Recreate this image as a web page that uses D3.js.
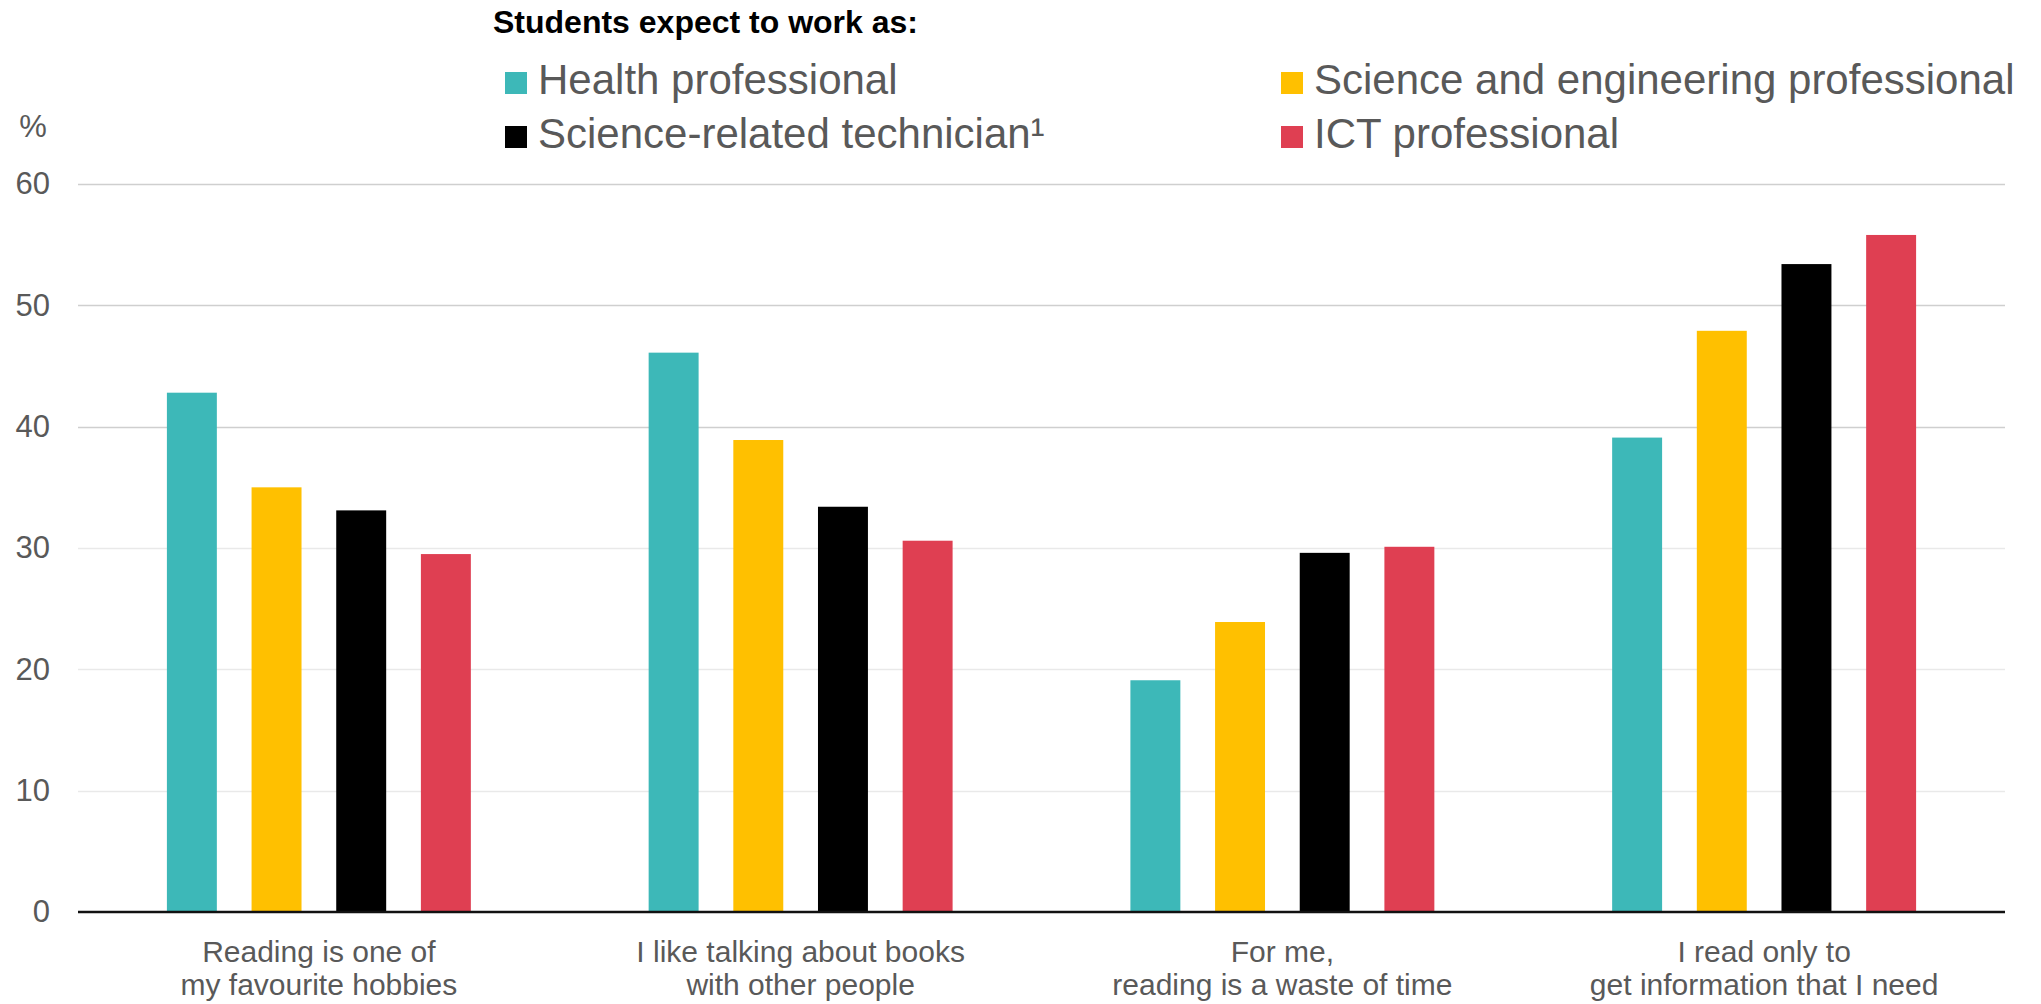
<!DOCTYPE html>
<html>
<head>
<meta charset="utf-8">
<script src="https://cdn.jsdelivr.net/npm/d3@7"></script>
<style>
  html, body { margin: 0; padding: 0; background: #fff; }
  svg { display: block; font-family: Arial, "Liberation Sans", sans-serif; }
</style>
</head>
<body>
<svg id="chart" width="2041" height="1004"></svg>
<script>
// ---- data ----
const categories = [
  ["Reading is one of", "my favourite hobbies"],
  ["I like talking about books", "with other people"],
  ["For me,", "reading is a waste of time"],
  ["I read only to", "get information that I need"]
];
const seriesNames = [
  "Health professional",
  "Science and engineering professional",
  "Science-related technician\u00B9",
  "ICT professional"
];
const health     = [42.8, 46.1, 19.1, 39.1];
const scienceEng = [35.0, 38.9, 23.9, 47.9];
const technician = [33.1, 33.4, 29.6, 53.4];
const ict        = [29.5, 30.6, 30.1, 55.8];
const seriesValues = [health, scienceEng, technician, ict];
const yTicks = [0, 10, 20, 30, 40, 50, 60];
const legendTitle = "Students expect to work as:";
const yUnit = "%";

// ---- styles ----
const colors = ["#3DB8B8", "#FFC000", "#000000", "#DF3F52"];
const textGrey = "#595959";

const margin = { left: 78, right: 2041 - 2005, top: 184, bottom: 1004 - 912 };
const W = 2041, H = 1004;
const svg = d3.select("#chart");

const catIdx = categories.map((d, i) => i);
const x0 = d3.scaleBand().domain(catIdx).range([margin.left, W - margin.right]).padding(0);
const x1 = d3.scaleBand().domain(d3.range(seriesNames.length))
  .range([0, x0.bandwidth()]).paddingInner(0.41).paddingOuter(1.05);
const y = d3.scaleLinear().domain([0, 60]).range([H - margin.bottom, margin.top]);

// gridlines
const gridG = svg.append("g");
gridG.selectAll("line").data(yTicks.filter(t => t > 0)).join("line")
  .attr("x1", margin.left).attr("x2", W - margin.right)
  .attr("y1", d => Math.round(y(d)) + 0.5).attr("y2", d => Math.round(y(d)) + 0.5)
  .attr("stroke", d => d >= 40 ? "#cfcfcf" : "#e9e9e9")
  .attr("stroke-width", 1.6);

// y axis labels
const yAxis = d3.axisLeft(y).tickValues(yTicks).tickSize(0).tickPadding(0).tickFormat(d3.format("d"));
const yG = svg.append("g").attr("transform", `translate(50,0)`).call(yAxis);
yG.select(".domain").remove();
yG.selectAll("text").attr("fill", textGrey).style("font-size", "31px")
  .attr("font-family", "Arial, 'Liberation Sans', sans-serif");

svg.append("text").attr("x", 33).attr("y", 137).attr("text-anchor", "middle")
  .attr("fill", textGrey).style("font-size", "31px").text(yUnit);

// bars
const groups = svg.append("g").selectAll("g").data(catIdx).join("g")
  .attr("transform", d => `translate(${x0(d)},0)`);
groups.selectAll("rect")
  .data(ci => seriesValues.map((vals, si) => ({ si, v: vals[ci] })))
  .join("rect")
  .attr("x", d => x1(d.si))
  .attr("width", x1.bandwidth())
  .attr("y", d => y(d.v))
  .attr("height", d => y(0) - y(d.v))
  .attr("fill", d => colors[d.si]);

// zero axis line
svg.append("line")
  .attr("x1", margin.left).attr("x2", W - margin.right)
  .attr("y1", y(0)).attr("y2", y(0))
  .attr("stroke", "#111").attr("stroke-width", 2.5);

// category labels
const xLab = svg.append("g").selectAll("text").data(catIdx).join("text")
  .attr("x", d => x0(d) + x0.bandwidth() / 2)
  .attr("y", 962)
  .attr("text-anchor", "middle")
  .attr("fill", textGrey)
  .style("font-size", "30px");
xLab.selectAll("tspan").data(d => categories[d].map((t, k) => ({ t, k })))
  .join("tspan")
  .attr("x", function () { return d3.select(this.parentNode).attr("x"); })
  .attr("dy", d => d.k === 0 ? 0 : 33)
  .text(d => d.t);

// legend
svg.append("text").attr("x", 493).attr("y", 33)
  .attr("fill", "#000").style("font-size", "32px").style("font-weight", "bold")
  .text(legendTitle);

const legendPos = [
  { x: 505, y: 94 }, { x: 1281, y: 94 },
  { x: 505, y: 148 }, { x: 1281, y: 148 }
];
const leg = svg.append("g").selectAll("g").data(seriesNames).join("g")
  .attr("transform", (d, i) => `translate(${legendPos[i].x},${legendPos[i].y})`);
leg.append("rect").attr("x", 0).attr("y", -22).attr("width", 22).attr("height", 22)
  .attr("fill", (d, i) => colors[i]);
leg.append("text").attr("x", 33).attr("y", 0)
  .attr("fill", textGrey).style("font-size", "42px")
  .text(d => d);
</script>
</body>
</html>
